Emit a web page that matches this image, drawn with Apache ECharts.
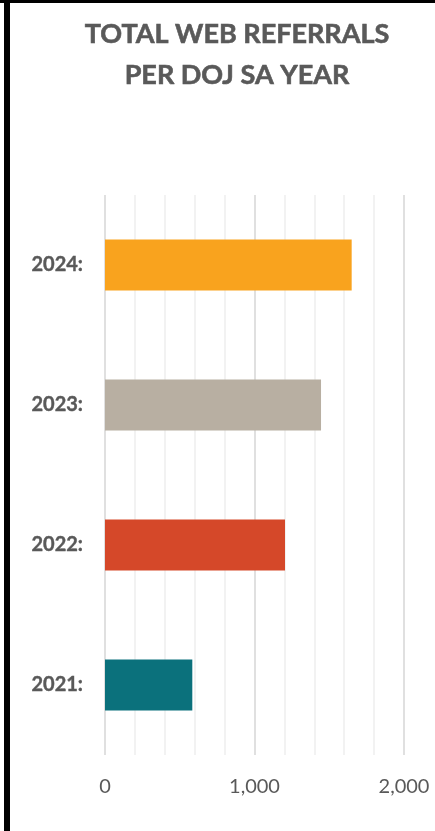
<!DOCTYPE html>
<html>
<head>
<meta charset="utf-8">
<script src="https://cdn.jsdelivr.net/npm/echarts@6/dist/echarts.min.js"></script>
<style>
html,body{margin:0;padding:0;background:#fff;}
#c{width:435px;height:831px;}
</style>
</head>
<body>
<div id="c"></div>
<script>
var categories = ['2021', '2022', '2023', '2024'];
var referrals = [584, 1204, 1445, 1650];
var barColors = ['#0B717C', '#D54829', '#B8AFA2', '#F9A31E'];
var tickLabels = ['0', '1,000', '2,000'];
var titleText = 'TOTAL WEB REFERRALS\nPER DOJ SA YEAR';

var chart = echarts.init(document.getElementById('c'));
chart.setOption({
  animation: false,
  backgroundColor: '#fff',
  title: {
    text: titleText,
    left: 232,
    textAlign: 'center',
    top: 9,
    textStyle: {
      fontFamily: 'Lato',
      fontWeight: 'bold',
      fontSize: 27,
      lineHeight: 41,
      color: '#595959',
      textBorderColor: '#595959',
      textBorderWidth: 0.6
    }
  },
  graphic: [
    {type: 'rect', shape: {x: 0, y: 0, width: 435, height: 3}, style: {fill: '#000'}},
    {type: 'rect', shape: {x: 4, y: 0, width: 6, height: 831}, style: {fill: '#000'}}
  ],
  grid: {left: 105, right: 31, top: 195, bottom: 76, containLabel: false},
  xAxis: {
    type: 'value',
    min: 0,
    max: 2000,
    interval: 200,
    axisLine: {show: false},
    axisTick: {show: false},
    splitLine: {
      show: true,
      lineStyle: {color: ['#d9d9d9', '#efefef', '#efefef', '#efefef', '#efefef'], width: 1.6}
    },
    axisLabel: {
      margin: 22,
      fontFamily: 'Lato',
      fontSize: 20,
      color: '#595959',
      formatter: function (v) {
        var i = v / 1000;
        return (v % 1000 === 0) ? tickLabels[i] : '';
      }
    }
  },
  yAxis: {
    type: 'category',
    data: categories,
    axisLine: {show: false},
    axisTick: {show: false},
    axisLabel: {
      margin: 22,
      fontFamily: 'Lato',
      fontWeight: 'bold',
      fontSize: 20,
      color: '#595959',
      textBorderColor: '#595959',
      textBorderWidth: 0.4,
      formatter: function (v) { return v + ':'; }
    }
  },
  series: [{
    type: 'bar',
    data: referrals.map(function (v, i) {
      return {value: v, itemStyle: {color: barColors[i]}};
    }),
    barWidth: 51
  }]
});
</script>
</body>
</html>
